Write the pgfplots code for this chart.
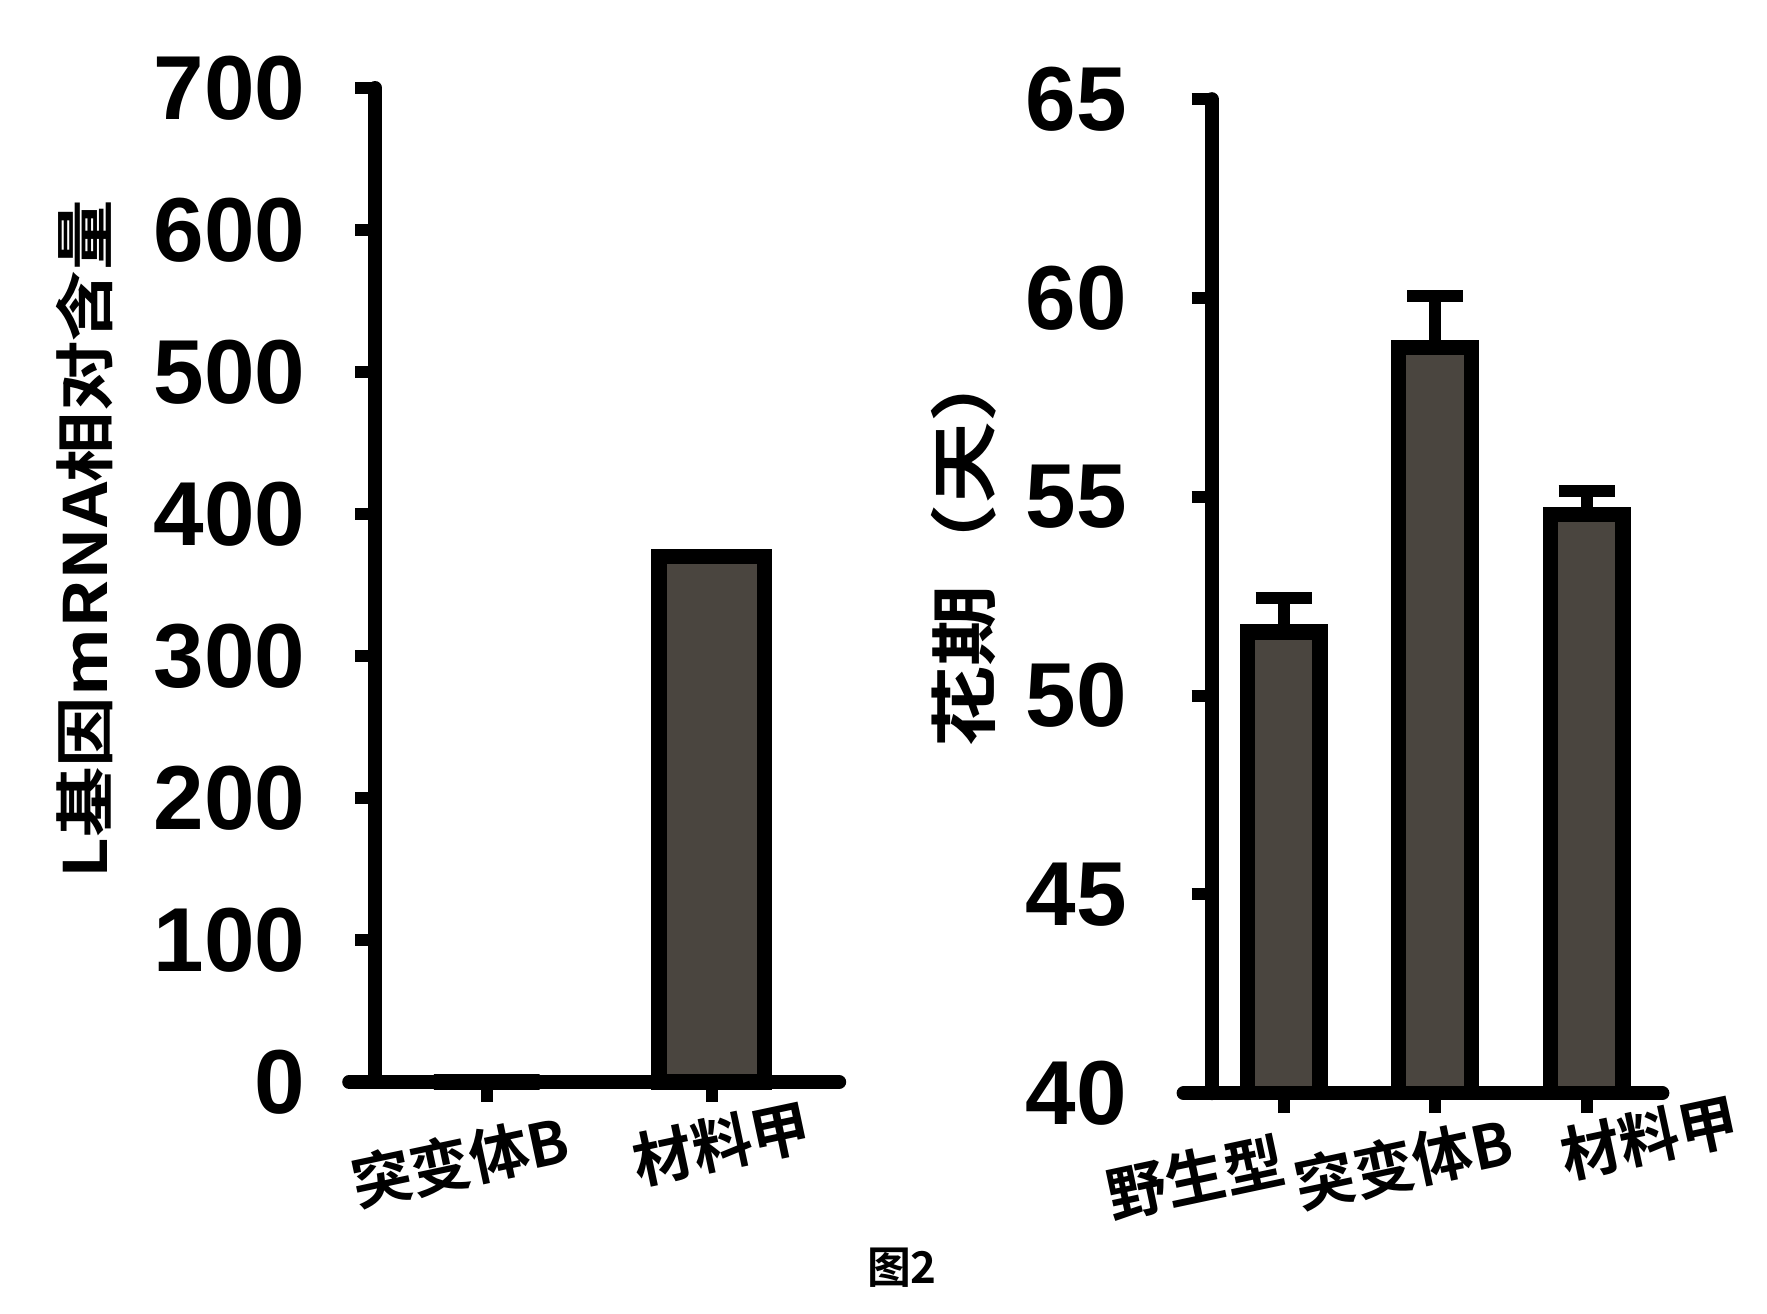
\documentclass[border=0pt]{standalone}
\usepackage{pgfplots}
\pgfplotsset{compat=1.18}
\usepackage{fontspec}
\setmainfont{Liberation Sans}
\newfontfamily\cjk{Noto Sans CJK SC}[BoldFont={Noto Sans CJK SC Bold}]
\definecolor{barfill}{RGB}{74,69,63}
\tikzset{xlab/.style={font=\fontsize{15}{16}\selectfont\cjk\bfseries, rotate=12, anchor=center}}
\begin{document}
\begin{tikzpicture}
\useasboundingbox (0,0) rectangle (441.75bp,328.5bp);
\pgfplotsset{
  mystyle/.style={
    scale only axis,
    axis x line*=bottom, axis y line*=left,
    tick align=outside,
    major tick length=5bp,
    every tick/.style={line width=3bp, black},
    axis line style={line width=3.5bp, black, line cap=round},
    /pgf/number format/assume math mode=true,
    ticklabel style={font=\fontsize{22.8}{24}\selectfont\bfseries},
    ylabel style={font=\fontsize{15}{16}\selectfont\cjk\bfseries, anchor=center},
    xtick=data, xticklabels={},
  },
}
\begin{axis}[mystyle,
  at={(93.8bp,58bp)}, anchor=south west,
  width=116bp, height=248.5bp,
  xmin=-0.495, xmax=1.565, ymin=0, ymax=700,
  ytick={0,100,...,700},
  yticklabel style={xshift=-9bp},
  x axis line style={shorten <=-6.5bp},
  ylabel={\scalebox{1.18}[1]{L基因mRNA相对含量}},
  ylabel style={at={(axis description cs:-0.626,0.546)}},
  clip=false,
]
\addplot[ybar, bar width=0.47, fill=barfill, draw=black, line width=3.8bp]
  coordinates {(0,0) (1,370)};
\node[xlab, xshift=-10.6bp, yshift=-18bp] at (axis cs:0,0) {突变体B};
\node[xlab, xshift=-0.8bp, yshift=-15.5bp] at (axis cs:1,0) {材料甲};
\end{axis}
\begin{axis}[mystyle,
  at={(302.9bp,55.2bp)}, anchor=south west,
  width=112.7bp, height=248.5bp,
  xmin=-0.476, xmax=2.5, ymin=40, ymax=65,
  ytick={40,45,...,65},
  yticklabel style={xshift=-12.7bp},
  x axis line style={shorten <=-7bp},
  ylabel={\scalebox{1.2}[1]{花期（天）}},
  ylabel style={at={(axis description cs:-0.55,0.552)}, font=\fontsize{17}{18}\selectfont\cjk\bfseries},
  clip mode=individual,
]
\addplot[ybar, bar width=0.48, fill=barfill, draw=black, line width=3.8bp,
  error bars/.cd, y dir=plus, y explicit,
  error bar style={line width=3bp, black},
  error mark options={rotate=90, mark size=7bp, line width=3bp, black}]
  coordinates {(0,51.6) +- (0,0.85) (1,58.75) +- (0,1.3) (2,54.55) +- (0,0.6)};
\node[xlab, xshift=-26bp, yshift=-16bp] at (axis cs:0,40) {野生型};
\node[xlab, xshift=-11.4bp, yshift=-15.5bp] at (axis cs:1,40) {突变体B};
\node[xlab, xshift=13bp, yshift=-14bp] at (axis cs:2,40) {材料甲};
\end{axis}
\node[font=\fontsize{11}{12}\selectfont\cjk\bfseries] at (225.5bp,11.5bp) {图2};
\end{tikzpicture}
\end{document}
